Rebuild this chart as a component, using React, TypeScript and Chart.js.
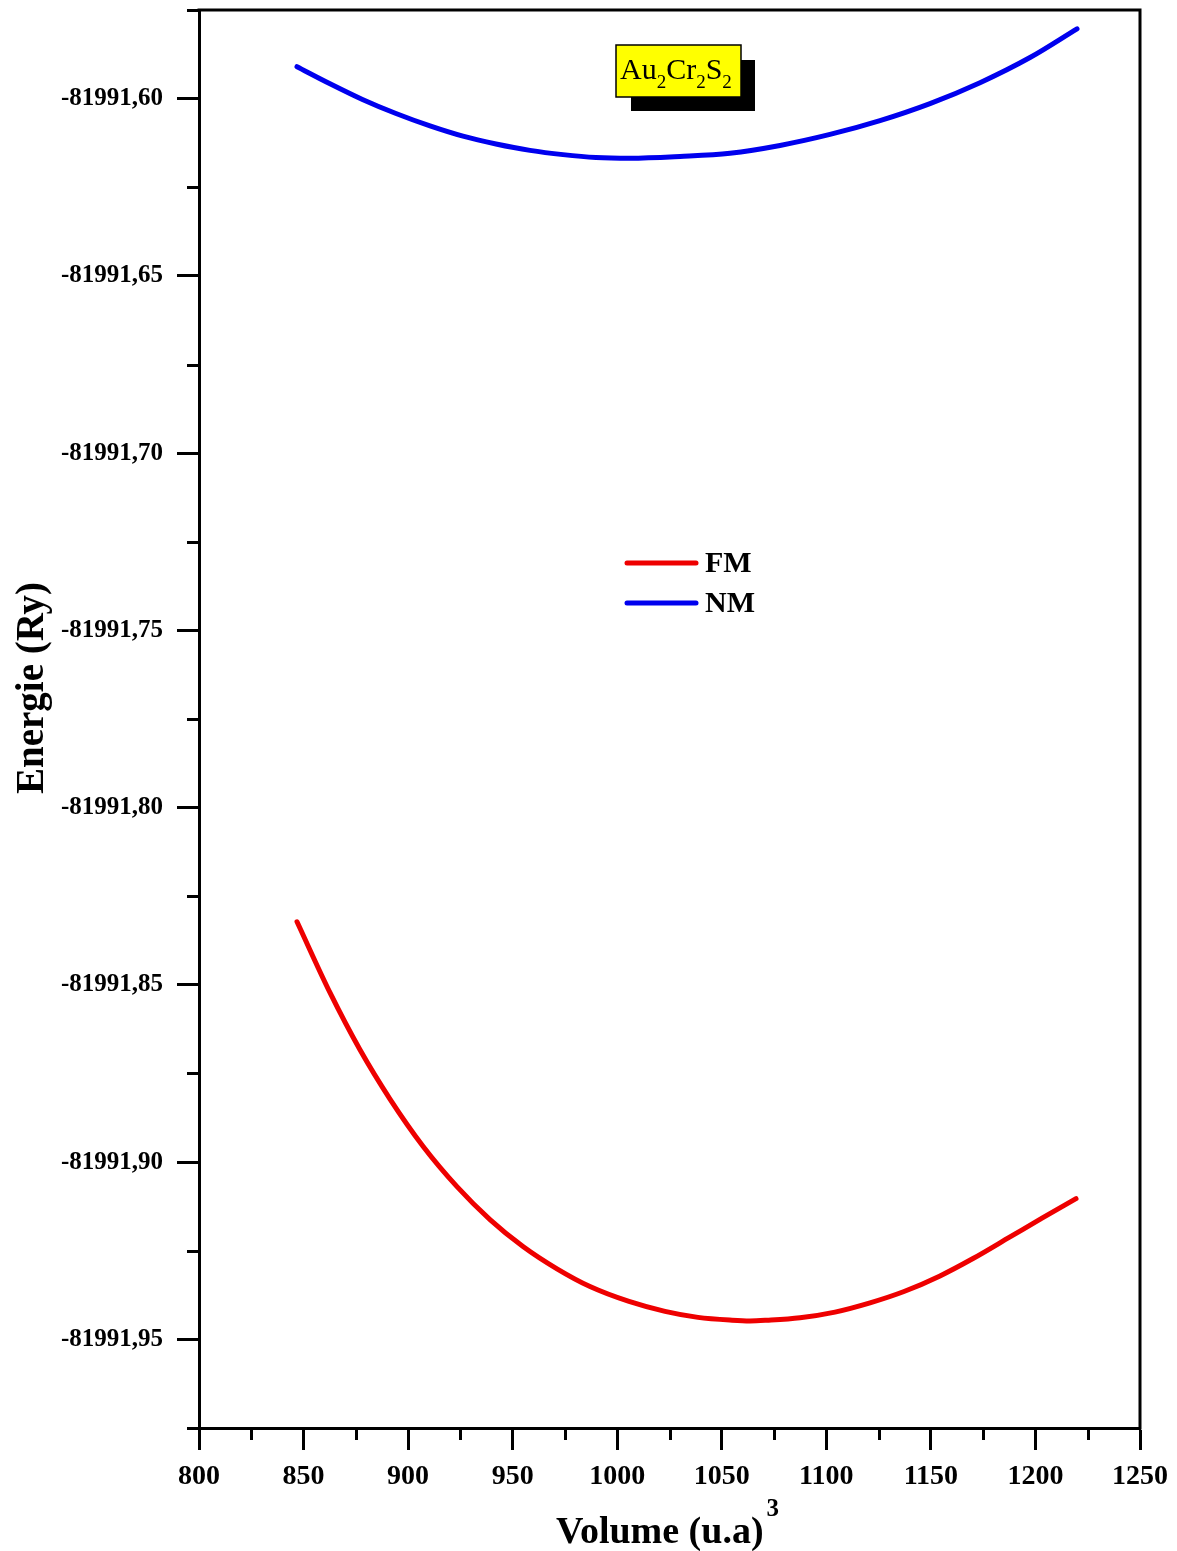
import React, { useEffect, useRef } from 'react';
import { Chart, registerables } from 'chart.js';

Chart.register(...registerables);

// Total energy vs. cell volume for the two magnetic configurations
const fmVolume = [846.87, 862.65, 876.99, 891.34, 907.12, 923.38, 939.16, 954.94, 971.2, 986.98, 1005.63, 1022.85, 1038.63, 1054.89, 1063.5, 1071.63, 1087.41, 1104.15, 1120.89, 1137.15, 1154.36, 1170.14, 1187.84, 1203.14, 1219.4];
const fmEnergy = [-81991.8322, -81991.8522, -81991.8683, -81991.8822, -81991.8955, -81991.9069, -81991.9162, -81991.9238, -81991.9301, -81991.9351, -81991.9393, -81991.9421, -81991.9438, -81991.9446, -81991.9448, -81991.9446, -81991.9439, -81991.9423, -81991.9397, -81991.9365, -81991.9321, -81991.9272, -81991.9211, -81991.9158, -81991.9103];

const nmVolume = [846.87, 862.65, 878.43, 894.21, 910.47, 926.25, 942.03, 958.29, 974.07, 989.85, 1006.11, 1030.02, 1053.93, 1077.84, 1101.75, 1125.66, 1149.57, 1173.48, 1197.39, 1219.87];
const nmEnergy = [-81991.591, -81991.5958, -81991.6003, -81991.6042, -81991.6077, -81991.6106, -81991.6128, -81991.6146, -81991.6158, -81991.6166, -81991.6168, -81991.6163, -81991.6154, -81991.6132, -81991.6101, -81991.6062, -81991.6014, -81991.5955, -81991.5884, -81991.5803];

const seriesLabels = ['FM', 'NM'];
const seriesColors = ['#ee0000', '#0000ee'];

const xMajorTicks = [800, 850, 900, 950, 1000, 1050, 1100, 1150, 1200, 1250];
const xMinorTicks = [825, 875, 925, 975, 1025, 1075, 1125, 1175, 1225];
const yMajorTicks = [-81991.6, -81991.65, -81991.7, -81991.75, -81991.8, -81991.85, -81991.9, -81991.95];
const yMinorTicks = [-81991.575, -81991.625, -81991.675, -81991.725, -81991.775, -81991.825, -81991.875, -81991.925, -81991.975];
const yTickLabels = ['-81991,60', '-81991,65', '-81991,70', '-81991,75', '-81991,80', '-81991,85', '-81991,90', '-81991,95'];

const xTitle = 'Volume (u.a)';
const xTitleSup = '3';
const yTitle = 'Energie (Ry)';

// Compound name, with subscripted stoichiometry
const formulaParts: [string, boolean][] = [['Au', false], ['2', true], ['Cr', false], ['2', true], ['S', false], ['2', true]];

const X_MIN = 800;
const X_MAX = 1250;
const Y_MIN = -81991.975;
const Y_MAX = -81991.575;

const SERIF = '"Liberation Serif", "Times New Roman", serif';

const indexIn = (list: number[], v: number) => list.findIndex((m) => Math.abs(m - v) < 1e-6);

const toPoints = (xs: number[], ys: number[]) => xs.map((x, i) => ({ x, y: ys[i] }));

const decorPlugin = {
  id: 'decor',
  afterDraw(chart: any) {
    const { ctx, chartArea: a, scales } = chart;
    ctx.save();

    // top and right sides of the frame
    ctx.strokeStyle = '#000';
    ctx.lineWidth = 3;
    ctx.lineCap = 'square';
    ctx.beginPath();
    ctx.moveTo(a.left, a.top);
    ctx.lineTo(a.right, a.top);
    ctx.lineTo(a.right, a.bottom);
    ctx.stroke();

    // minor ticks
    ctx.lineCap = 'butt';
    ctx.beginPath();
    for (const v of xMinorTicks) {
      const px = Math.round(scales.x.getPixelForValue(v)) + 0.5;
      ctx.moveTo(px, a.bottom);
      ctx.lineTo(px, a.bottom + 12);
    }
    for (const v of yMinorTicks) {
      const py = Math.round(scales.y.getPixelForValue(v)) + 0.5;
      ctx.moveTo(a.left - 12, py);
      ctx.lineTo(a.left, py);
    }
    ctx.stroke();

    // compound label with drop shadow
    ctx.fillStyle = '#000';
    ctx.fillRect(631, 60, 124, 51);
    ctx.fillStyle = '#ffff00';
    ctx.fillRect(616, 45, 125, 52);
    ctx.lineWidth = 1.5;
    ctx.strokeStyle = '#000';
    ctx.strokeRect(616, 45, 125, 52);
    let fx = 620;
    ctx.fillStyle = '#000';
    ctx.textBaseline = 'alphabetic';
    ctx.textAlign = 'left';
    for (const [t, sub] of formulaParts) {
      ctx.font = sub ? `19px ${SERIF}` : `30px ${SERIF}`;
      ctx.fillText(t, fx, sub ? 88 : 79);
      fx += ctx.measureText(t).width;
    }

    // legend
    const ds = chart.data.datasets;
    ds.forEach((d: any, i: number) => {
      const ly = 563 + i * 40;
      ctx.strokeStyle = d.borderColor;
      ctx.lineWidth = 5;
      ctx.lineCap = 'round';
      ctx.beginPath();
      ctx.moveTo(627, ly);
      ctx.lineTo(696, ly);
      ctx.stroke();
      ctx.fillStyle = '#000';
      ctx.font = `bold 30px ${SERIF}`;
      ctx.textBaseline = 'middle';
      ctx.fillText(d.label, 705, ly + 1);
    });

    // axis titles
    ctx.fillStyle = '#000';
    ctx.font = `bold 38px ${SERIF}`;
    ctx.textBaseline = 'alphabetic';
    ctx.textAlign = 'left';
    const w = ctx.measureText(xTitle).width;
    ctx.font = `bold 25px ${SERIF}`;
    const sw = ctx.measureText(xTitleSup).width;
    const startX = (a.left + a.right) / 2 - 2 - (w + sw + 3) / 2;
    ctx.font = `bold 38px ${SERIF}`;
    ctx.fillText(xTitle, startX, 1543);
    ctx.font = `bold 25px ${SERIF}`;
    ctx.fillText(xTitleSup, startX + w + 3, 1516);

    ctx.translate(43, 688);
    ctx.rotate(-Math.PI / 2);
    ctx.font = `bold 39px ${SERIF}`;
    ctx.textAlign = 'center';
    ctx.fillText(yTitle, 0, 0);

    ctx.restore();
  },
};

export default function App() {
  const canvasRef = useRef<HTMLCanvasElement | null>(null);

  useEffect(() => {
    document.body.style.margin = '0';
    const canvas = canvasRef.current;
    if (!canvas) return;

    const lineStyle = {
      borderWidth: 5,
      pointRadius: 0,
      cubicInterpolationMode: 'monotone',
      borderCapStyle: 'round',
      borderJoinStyle: 'round',
      fill: false,
    };

    const chart = new Chart(canvas, {
      type: 'line',
      data: {
        datasets: [
          {
            label: seriesLabels[0],
            data: toPoints(fmVolume, fmEnergy),
            borderColor: seriesColors[0],
            backgroundColor: seriesColors[0],
            ...lineStyle,
          },
          {
            label: seriesLabels[1],
            data: toPoints(nmVolume, nmEnergy),
            borderColor: seriesColors[1],
            backgroundColor: seriesColors[1],
            ...lineStyle,
          },
        ],
      },
      options: {
        responsive: false,
        animation: false,
        devicePixelRatio: 1,
        layout: { padding: { top: 10, right: 37, left: 0, bottom: 0 } },
        plugins: {
          legend: { display: false },
          tooltip: { enabled: false },
          title: { display: false },
        },
        scales: {
          x: {
            type: 'linear',
            min: X_MIN,
            max: X_MAX,
            afterBuildTicks: (scale: any) => {
              scale.ticks = xMajorTicks.map((value) => ({ value }));
            },
            afterFit: (scale: any) => {
              scale.height = 123;
              scale.paddingLeft = 0;
              scale.paddingRight = 0;
            },
            grid: {
              drawOnChartArea: false,
              drawTicks: true,
              tickLength: 22,
              tickWidth: 3,
              tickColor: '#000',
            },
            border: { display: true, color: '#000', width: 3 },
            ticks: {
              autoSkip: false,
              maxRotation: 0,
              padding: 10,
              color: '#000',
              font: { family: SERIF, size: 28, weight: 'bold' },
              callback: (v: any) => String(v),
            },
          },
          y: {
            type: 'linear',
            min: Y_MIN,
            max: Y_MAX,
            afterBuildTicks: (scale: any) => {
              scale.ticks = [...yMajorTicks].sort((p, q) => p - q).map((value) => ({ value }));
            },
            afterFit: (scale: any) => {
              scale.width = 199;
              scale.paddingTop = 0;
              scale.paddingBottom = 0;
            },
            grid: {
              drawOnChartArea: false,
              drawTicks: true,
              tickLength: 22,
              tickWidth: 3,
              tickColor: '#000',
            },
            border: { display: true, color: '#000', width: 3 },
            ticks: {
              autoSkip: false,
              padding: 14,
              color: '#000',
              font: { family: SERIF, size: 25, weight: 'bold' },
              callback: (v: any) => {
                const i = indexIn(yMajorTicks, Number(v));
                return i >= 0 ? yTickLabels[i] : '';
              },
            },
          },
        },
      },
      plugins: [decorPlugin],
    } as any);

    return () => chart.destroy();
  }, []);

  return (
    <div style={{ width: 1177, height: 1551, background: '#fff' }}>
      <canvas ref={canvasRef} width={1177} height={1551} style={{ display: 'block' }} />
    </div>
  );
}
